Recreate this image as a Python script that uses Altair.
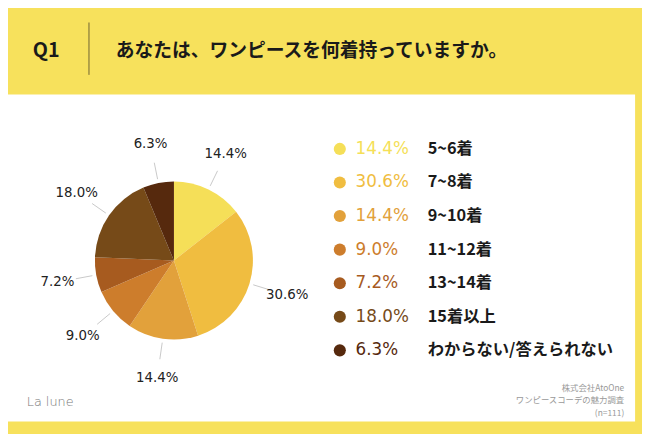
import altair as alt
import pandas as pd
import numpy as np

# ---- data ----
categories = ["5~6着", "7~8着", "9~10着", "11~12着", "13~14着", "15着以上", "わからない/答えられない"]
values = [14.4, 30.6, 14.4, 9.0, 7.2, 18.0, 6.3]
colors = ["#F5DF58", "#F0BD40", "#E2A13B", "#CD7D2C", "#A75B1F", "#764A18", "#56290D"]

title_q = "Q1"
question = "あなたは、ワンピースを何着持っていますか。"
source_lines = ["株式会社AtoOne", "ワンピースコーデの魅力調査", "(n=111)"]
logo = "La lune"

W, H = 642, 426
CX, CY, R = 168, 253, 80

df = pd.DataFrame({
    "category": categories,
    "value": values,
    "order": list(range(len(categories))),
    "label": [f"{v:.1f}%" for v in values],
})
total = df["value"].sum()
mid = (df["value"].cumsum() - df["value"] / 2) / total * 2 * np.pi
df["lx1"] = CX + 84 * np.sin(mid)
df["ly1"] = CY - 84 * np.cos(mid)
df["lx2"] = CX + 101 * np.sin(mid)
df["ly2"] = CY - 101 * np.cos(mid)

color_scale = alt.Scale(domain=categories, range=colors)
base = alt.Chart(df)

# background panel
panel = alt.Chart(pd.DataFrame({"a": [0]})).mark_rect(color="white").encode(
    x=alt.value(0), x2=alt.value(635), y=alt.value(85), y2=alt.value(416)
)
sep = alt.Chart(pd.DataFrame({"a": [0]})).mark_rule(color="#6e6233", strokeWidth=1).encode(
    x=alt.value(82), y=alt.value(12), y2=alt.value(65)
)
q_text = alt.Chart(pd.DataFrame({"t": [title_q]})).mark_text(
    align="left", baseline="middle", font="Noto Sans CJK JP", fontWeight="bold", fontSize=20, color="#1a1a1a"
).encode(x=alt.value(25), y=alt.value(41), text="t:N")
question_text = alt.Chart(pd.DataFrame({"t": [question]})).mark_text(
    align="left", baseline="middle", font="Noto Sans CJK JP", fontWeight="bold", fontSize=19, color="#1a1a1a"
).encode(x=alt.value(109), y=alt.value(41), text="t:N")

# pie
pie = base.mark_arc(outerRadius=R, stroke=None).encode(
    theta=alt.Theta("value:Q", stack=True),
    order=alt.Order("order:Q"),
    color=alt.Color("category:N", scale=color_scale, legend=None),
    x=alt.value(CX), y=alt.value(CY),
)
pie_labels = base.mark_text(radius=120, font="DejaVu Sans", fontSize=13.5, color="#222222").encode(
    theta=alt.Theta("value:Q", stack=True),
    order=alt.Order("order:Q"),
    text="label:N",
    x=alt.value(CX), y=alt.value(CY),
)
leaders = base.mark_rule(color="#c8c8c8", strokeWidth=1).encode(
    x=alt.X("lx1:Q", scale=None, axis=None),
    y=alt.Y("ly1:Q", scale=None, axis=None),
    x2="lx2:Q", y2="ly2:Q",
)

# legend
row_y = alt.Y("category:N", sort=categories, axis=None,
              scale=alt.Scale(type="point", domain=categories, range=[140, 344], padding=0))
leg_dots = base.mark_circle(size=150, opacity=1).encode(
    x=alt.value(336), y=row_y,
    color=alt.Color("category:N", scale=color_scale, legend=None),
)
leg_pct = base.mark_text(align="left", baseline="middle", font="DejaVu Sans", fontSize=17).encode(
    x=alt.value(352), y=row_y, text="label:N",
    color=alt.Color("category:N", scale=color_scale, legend=None),
)
leg_cat = base.mark_text(align="left", baseline="middle", font="Noto Sans CJK JP", fontWeight="bold",
                         fontSize=16.5, color="#1a1a1a").encode(
    x=alt.value(425), y=row_y, text="category:N",
)

# footer
logo_text = alt.Chart(pd.DataFrame({"t": [logo]})).mark_text(
    align="left", baseline="middle", font="DejaVu Sans", fontWeight=200, fontSize=13, color="#777777"
).encode(x=alt.value(19), y=alt.value(396), text="t:N")
src_df = pd.DataFrame({"t": source_lines, "i": list(range(len(source_lines)))})
src = alt.Chart(src_df).mark_text(
    align="right", baseline="middle", font="Noto Sans CJK JP", fontSize=8.5, color="#999999"
).encode(
    x=alt.value(624),
    y=alt.Y("i:O", axis=None, scale=alt.Scale(type="point", range=[382, 407], padding=0)),
    text="t:N",
)

chart = alt.layer(
    panel, sep, q_text, question_text, pie, leaders, pie_labels, leg_dots, leg_pct, leg_cat, logo_text, src
).resolve_scale(y="independent", x="independent").properties(
    width=W, height=H, background="#F7E15C", padding=0, autosize=alt.AutoSizeParams(type="none")
).configure_view(stroke=None)

chart.save("out.html", embed_options={"renderer": "svg", "actions": False})
